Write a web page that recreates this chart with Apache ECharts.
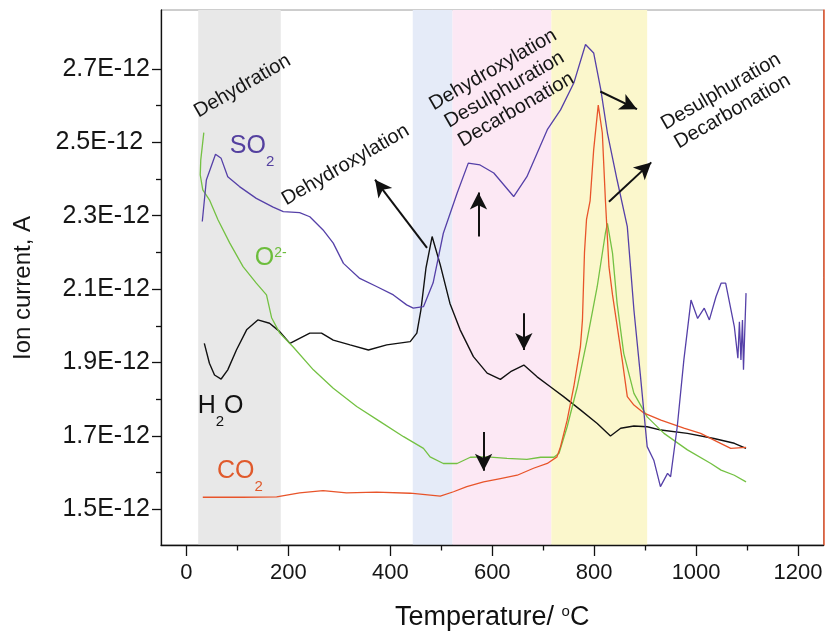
<!DOCTYPE html>
<html><head><meta charset="utf-8">
<script src="https://cdn.jsdelivr.net/npm/echarts@6/dist/echarts.min.js"></script>
<style>html,body{margin:0;padding:0;background:#fff}#c{width:826px;height:632px}</style>
</head><body><div id="c"></div>
<script>
// ---- data (ion current in units of 1E-12 A, temperature in °C) ----
const so2T = [31, 39, 57, 68, 81, 104, 137, 170, 190, 222, 242, 268, 288, 308, 340, 373, 406, 432, 445, 465, 484, 504, 531, 553, 576, 603, 642, 668, 688, 708, 734, 760, 783, 799, 813, 826, 845, 865, 878, 891, 904, 917, 930, 944, 950, 963, 976, 990, 1003, 1016, 1026, 1039, 1049, 1058, 1075, 1082, 1085, 1088, 1091, 1093, 1098];
const so2V = [2.284, 2.397, 2.467, 2.456, 2.406, 2.379, 2.347, 2.323, 2.311, 2.308, 2.297, 2.261, 2.225, 2.170, 2.129, 2.107, 2.084, 2.057, 2.048, 2.052, 2.117, 2.252, 2.361, 2.443, 2.438, 2.416, 2.352, 2.406, 2.470, 2.534, 2.588, 2.661, 2.766, 2.743, 2.643, 2.525, 2.397, 2.270, 2.043, 1.861, 1.671, 1.634, 1.562, 1.598, 1.589, 1.725, 1.907, 2.070, 2.020, 2.048, 2.016, 2.079, 2.116, 2.116, 1.998, 1.912, 2.011, 1.907, 2.016, 1.880, 2.089];

const h2oT = [35, 45, 55, 68, 81, 98, 118, 140, 163, 183, 203, 222, 242, 265, 288, 321, 357, 393, 439, 452, 460, 470, 482, 498, 517, 537, 563, 590, 616, 636, 662, 688, 714, 740, 773, 806, 832, 852, 878, 904, 931, 983, 1035, 1075, 1098];
const h2oV = [1.952, 1.898, 1.866, 1.855, 1.880, 1.934, 1.989, 2.016, 2.007, 1.984, 1.952, 1.966, 1.980, 1.980, 1.961, 1.948, 1.934, 1.948, 1.957, 1.980, 2.043, 2.158, 2.243, 2.166, 2.061, 1.989, 1.916, 1.871, 1.854, 1.875, 1.893, 1.861, 1.834, 1.807, 1.771, 1.734, 1.700, 1.721, 1.727, 1.725, 1.716, 1.707, 1.693, 1.680, 1.666];

const o2T = [34, 28, 27, 32, 45, 62, 85, 111, 137, 157, 167, 183, 209, 249, 288, 334, 380, 426, 465, 478, 504, 531, 557, 590, 629, 668, 695, 721, 731, 747, 767, 786, 806, 822, 826, 836, 845, 858, 878, 904, 937, 983, 1029, 1049, 1075, 1098];
const o2V = [2.526, 2.451, 2.411, 2.370, 2.343, 2.288, 2.225, 2.161, 2.116, 2.084, 2.022, 1.980, 1.943, 1.880, 1.830, 1.780, 1.739, 1.698, 1.666, 1.643, 1.625, 1.625, 1.642, 1.643, 1.639, 1.636, 1.642, 1.642, 1.653, 1.725, 1.834, 1.961, 2.107, 2.252, 2.279, 2.198, 2.061, 1.925, 1.816, 1.752, 1.707, 1.662, 1.625, 1.607, 1.593, 1.575];

const co2T = [32, 111, 177, 222, 268, 314, 373, 439, 498, 524, 550, 583, 616, 649, 681, 708, 727, 734, 747, 760, 773, 777, 781, 785, 792, 799, 808, 816, 822, 829, 836, 855, 865, 878, 898, 931, 976, 1009, 1042, 1068, 1098];
const co2V = [1.533, 1.533, 1.534, 1.545, 1.551, 1.545, 1.547, 1.544, 1.536, 1.548, 1.562, 1.575, 1.584, 1.593, 1.612, 1.625, 1.643, 1.671, 1.743, 1.834, 1.943, 2.016, 2.200, 2.290, 2.340, 2.479, 2.601, 2.525, 2.343, 2.161, 2.084, 1.907, 1.807, 1.784, 1.762, 1.743, 1.721, 1.707, 1.684, 1.666, 1.669];

// temperature ranges of the shaded stages
const bandStart = [23, 444, 522, 716];
const bandEnd   = [185, 522, 716, 904];

// axis ticks
const xTickValues  = [0, 200, 400, 600, 800, 1000, 1200];
const xMinorValues = [100, 300, 500, 700, 900, 1100];
const yTickValues  = [1.5, 1.7, 1.9, 2.1, 2.3, 2.5, 2.7];
const yTickLabels  = ['1.5E-12', '1.7E-12', '1.9E-12', '2.1E-12', '2.3E-12', '2.5E-12 ', '2.7E-12'];
const yMinorValues = [1.6, 1.8, 2.0, 2.2, 2.4, 2.6];

// annotation arrows [T0, v0, T1, v1] in data units
const arrows = [
  [472, 2.212, 370, 2.398],
  [573, 2.243, 573, 2.363],
  [662, 2.034, 662, 1.934],
  [583, 1.711, 583, 1.605],
  [812, 2.638, 884, 2.590],
  [829, 2.338, 912, 2.445]
];
// annotation texts and their anchors (data units)
const noteTexts = ['Dehydration', 'Dehydroxylation', 'Dehydroxylation\nDesulphuration\nDecarbonation', 'Desulphuration\nDecarbonation'];
const noteT = [110, 312, 624, 1060];
const noteV = [2.653, 2.438, 2.643, 2.611];
// species labels
const specText = ['{m|SO}{sub|2}', '{m|O}{sup|2-}', '{m|H}{sub|2}{m|O}', '{m|CO}{sub|2}'];
const specT = [85, 134, 22, 60];
const specV = [2.524, 2.217, 1.816, 1.639];

// ---- styles ----
const FONT = '"Liberation Sans", Arial, Helvetica, sans-serif';
const cSO2 = '#5540a8', cH2O = '#111111', cO2 = '#74c143', cCO2 = '#e8542a';
const specColor = ['#54409f', '#6cbd3c', '#111111', '#e05a2c'];
const bandColors = ['#e8e8e8', '#e5ebf8', '#fce8f4', '#fbf7cc'];
const yMin = 1.403, yMax = 2.86, xMin = -50, xMax = 1250;
const GRID = {left: 161, right: 2.5, top: 10, bottom: 87};
const W = 826, H = 632;
const gridW = W - GRID.left - GRID.right, gridH = H - GRID.top - GRID.bottom;

const zip = (a, b) => a.map((t, i) => [t, b[i]]);
const tickStyle = {color: '#111', width: 1.3};

const chart = echarts.init(document.getElementById('c'), null, {renderer: 'canvas'});

const option = {
  animation: false,
  backgroundColor: '#ffffff',
  grid: Object.assign({show: true, borderColor: '#9c9c9c', borderWidth: 1, backgroundColor: 'transparent', containLabel: false, outerBoundsMode: 'none'}, GRID),
  xAxis: [
    {type: 'value', min: xMin, max: xMax, position: 'bottom', z: 5,
     name: '{m|Temperature/ }{s|o}{m|C}', nameLocation: 'middle', nameGap: 59,
     nameTextStyle: {rich: {
       m: {fontSize: 27, lineHeight: 32, verticalAlign: 'top', color: '#111', fontFamily: FONT},
       s: {fontSize: 15, lineHeight: 21, verticalAlign: 'top', color: '#111', fontFamily: FONT}}},
     axisLine: {show: true, onZero: false, lineStyle: tickStyle},
     axisTick: {show: true, customValues: xTickValues, length: 11, lineStyle: tickStyle},
     axisLabel: {customValues: xTickValues, fontSize: 22, color: '#161616', margin: 17, fontFamily: FONT,
       formatter: v => String(Math.round(v))},
     splitLine: {show: false}},
    // minor ticks, placed on the top slot and shifted down onto the bottom line
    {type: 'value', min: xMin, max: xMax, position: 'top', offset: -gridH, z: 5,
     axisLine: {show: false, onZero: false},
     axisTick: {show: true, inside: true, customValues: xMinorValues, length: 5.5, lineStyle: tickStyle},
     axisLabel: {show: false}, splitLine: {show: false}}
  ],
  yAxis: [
    {type: 'value', min: yMin, max: yMax, position: 'left', z: 5,
     axisLine: {show: true, onZero: false, lineStyle: tickStyle},
     axisTick: {show: true, customValues: yTickValues, length: 9, lineStyle: tickStyle},
     axisLabel: {customValues: yTickValues, fontSize: 25, color: '#161616', margin: 11, fontFamily: FONT,
       formatter: v => { const i = yTickValues.findIndex(t => Math.abs(t - v) < 1e-6); return i >= 0 ? yTickLabels[i] : ''; }},
     splitLine: {show: false}},
    {type: 'value', min: yMin, max: yMax, position: 'right', z: 5,
     axisLine: {show: true, onZero: false, lineStyle: {color: '#e0522a', width: 1.5}},
     axisTick: {show: false}, axisLabel: {show: false}, splitLine: {show: false}},
    // minor ticks, on the right slot shifted onto the left line
    {type: 'value', min: yMin, max: yMax, position: 'right', offset: -gridW, z: 5,
     axisLine: {show: false, onZero: false},
     axisTick: {show: true, inside: true, customValues: yMinorValues, length: 5, lineStyle: tickStyle},
     axisLabel: {show: false}, splitLine: {show: false}}
  ],
  series: [
    {name: 'H2O', type: 'line', data: zip(h2oT, h2oV), showSymbol: false, symbol: 'none',
     lineStyle: {color: cH2O, width: 1.4}, itemStyle: {color: cH2O}, z: 3,
     markArea: {silent: true, z: 1,
       data: bandStart.map((s, i) => [{xAxis: s, itemStyle: {color: bandColors[i]}}, {xAxis: bandEnd[i]}])},
     markLine: {silent: true, symbol: ['none', 'arrow'], symbolSize: [13, 17], label: {show: false},
       lineStyle: {color: '#111', width: 2, type: 'solid'},
       emphasis: {disabled: true},
       data: arrows.map(a => [{coord: [a[0], a[1]]}, {coord: [a[2], a[3]]}])}},
    {name: 'O2-', type: 'line', data: zip(o2T, o2V), showSymbol: false, symbol: 'none',
     lineStyle: {color: cO2, width: 1.3}, itemStyle: {color: cO2}, z: 3},
    {name: 'CO2', type: 'line', data: zip(co2T, co2V), showSymbol: false, symbol: 'none',
     lineStyle: {color: cCO2, width: 1.3}, itemStyle: {color: cCO2}, z: 3},
    {name: 'SO2', type: 'line', data: zip(so2T, so2V), showSymbol: false, symbol: 'none',
     lineStyle: {color: cSO2, width: 1.3}, itemStyle: {color: cSO2}, z: 3}
  ]
};
chart.setOption(option);

const px = (t, v) => chart.convertToPixel({xAxisIndex: 0, yAxisIndex: 0}, [t, v]);
const graphics = [];
// y axis title
const plotTop = px(0, yMax)[1], plotBot = px(0, yMin)[1];
graphics.push({type: 'text', x: 23.5, y: (plotTop + plotBot) / 2 + 10.5, rotation: Math.PI / 2, z: 10,
  style: {text: 'Ion current, A', fontSize: 24, fontFamily: FONT, fill: '#161616', align: 'center', verticalAlign: 'middle'}});
// stage annotations
noteTexts.forEach((t, i) => {
  const p = px(noteT[i], noteV[i]);
  graphics.push({type: 'text', x: p[0], y: p[1], rotation: Math.PI / 6, z: 10,
    style: {text: t, fontSize: 20, lineHeight: 23, fontFamily: FONT, fill: '#161616', align: 'center', verticalAlign: 'middle'}});
});
// species labels
specText.forEach((t, i) => {
  const p = px(specT[i], specV[i]);
  const c = specColor[i];
  graphics.push({type: 'text', x: p[0], y: p[1], z: 10,
    style: {text: t, align: 'left', verticalAlign: 'top', fill: c, fontFamily: FONT,
      rich: {
        m: {fontSize: 25, lineHeight: 30, verticalAlign: 'top', fill: c, fontFamily: FONT},
        sub: {fontSize: 15, lineHeight: 14, verticalAlign: 'top', padding: [21, 0, 0, 0], fill: c, fontFamily: FONT},
        sup: {fontSize: 14, lineHeight: 20, verticalAlign: 'top', fill: c, fontFamily: FONT}
      }}});
});
chart.setOption({graphic: graphics});
</script>
</body></html>
